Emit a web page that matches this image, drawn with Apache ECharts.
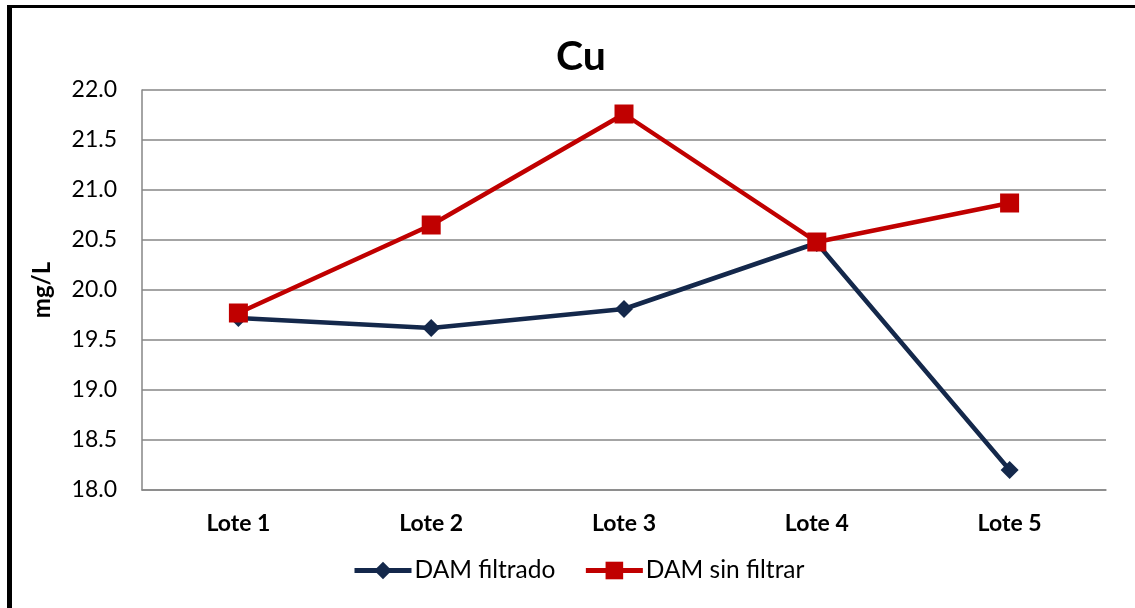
<!DOCTYPE html>
<html>
<head>
<meta charset="utf-8">
<script src="https://cdn.jsdelivr.net/npm/echarts@6/dist/echarts.min.js"></script>
<style>
  html, body { margin: 0; padding: 0; background: #fff; }
  #frame {
    position: absolute; left: 7px; top: 5px; width: 1140px; height: 600px;
    border-left: 5px solid #000; border-top: 3px solid #000;
    border-bottom: 2px solid #6b6b6b; box-sizing: content-box;
  }
  #chart { position: absolute; left: 0; top: 0; width: 1135px; height: 608px; }
</style>
</head>
<body>
<div id="frame"></div>
<div id="chart"></div>
<script>
var categories = ['Lote 1', 'Lote 2', 'Lote 3', 'Lote 4', 'Lote 5'];
var damFiltrado = [19.72, 19.62, 19.81, 20.47, 18.20];
var damSinFiltrar = [19.77, 20.65, 21.76, 20.48, 20.87];

var font = 'Lato, "Open Sans", sans-serif';
var chart = echarts.init(document.getElementById('chart'));

chart.setOption({
  animation: false,
  title: {
    text: 'Cu', left: 551, top: 31,
    textStyle: { fontFamily: font, fontSize: 41, fontWeight: 'bold', color: '#000' }
  },
  legend: {
    bottom: 20, left: 347, itemWidth: 57, itemHeight: 22, itemGap: 28,
    textStyle: { fontFamily: font, fontSize: 24.5, color: '#000', padding: [0, 0, 0, -2] },
    lineStyle: { width: 5 },
    data: ['DAM filtrado', 'DAM sin filtrar']
  },
  grid: { left: 142, right: 29, top: 90, bottom: 118 },
  xAxis: {
    type: 'category', data: categories, boundaryGap: true,
    axisLine: { lineStyle: { color: '#868686', width: 1.5 } },
    axisTick: { alignWithLabel: true, length: 6, lineStyle: { color: '#868686', width: 1.5 } },
    axisLabel: { fontFamily: font, fontSize: 23, fontWeight: 'bold', color: '#000', margin: 22 }
  },
  yAxis: {
    type: 'value', min: 18, max: 22, interval: 0.5,
    name: 'mg/L', nameLocation: 'middle', nameGap: 88, nameRotate: 90,
    nameTextStyle: { fontFamily: font, fontSize: 24, fontWeight: 'bold', color: '#000' },
    axisLine: { show: true, lineStyle: { color: '#868686', width: 1.5 } },
    axisTick: { show: false },
    splitLine: { lineStyle: { color: '#868686', width: 1.5 } },
    axisLabel: {
      fontFamily: font, fontSize: 23, color: '#000', margin: 25,
      formatter: function (v) { return v.toFixed(1); }
    }
  },
  series: [
    {
      name: 'DAM filtrado', type: 'line', data: damFiltrado,
      symbol: 'diamond', symbolSize: 18,
      lineStyle: { color: '#14284B', width: 4.5 },
      itemStyle: { color: '#14284B' }
    },
    {
      name: 'DAM sin filtrar', type: 'line', data: damSinFiltrar,
      symbol: 'rect', symbolSize: 19,
      lineStyle: { color: '#C00000', width: 4.5 },
      itemStyle: { color: '#C00000' }
    }
  ]
});
</script>
</body>
</html>
